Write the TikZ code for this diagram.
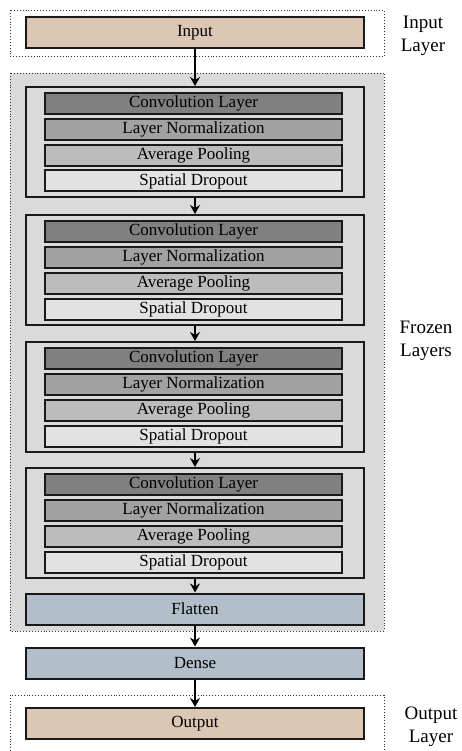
\documentclass[tikz,border=0pt]{standalone}
\usepackage{fontspec}
\setmainfont{Liberation Serif}
\usetikzlibrary{arrows.meta}
\definecolor{tan}{RGB}{220,198,180}
\definecolor{frozenbg}{RGB}{218,218,218}
\definecolor{convc}{RGB}{128,128,128}
\definecolor{normc}{RGB}{162,162,162}
\definecolor{poolc}{RGB}{188,188,188}
\definecolor{dropc}{RGB}{226,226,226}
\definecolor{densec}{RGB}{178,190,202}
\tikzset{
  box/.style={draw=black!90, line width=2pt, rectangle, inner sep=0pt,
    font=\fontsize{17}{20}\selectfont, text=black},
  widebox/.style={box, minimum width=338pt, minimum height=31pt},
  blockbox/.style={draw=black!90, line width=2pt, rectangle, fill=frozenbg,
    minimum width=338pt, minimum height=110pt, inner sep=0pt},
  subbox/.style={box, minimum width=297pt, minimum height=21pt},
  group/.style={draw=black!80, line width=0.9pt, dotted},
  sidelabel/.style={align=center, font=\fontsize{19}{23}\selectfont, text=black},
  arr/.style={line width=1.6pt, -{Stealth[length=9pt, width=10pt, inset=3pt]}}
}
\begin{document}
\begin{tikzpicture}[x=1pt, y=-1pt]
\useasboundingbox[fill=white] (0,0) rectangle (461,751);

% dotted group frames
\draw[group] (10,10) rectangle (384,56);
\draw[group, fill=frozenbg] (10,73) rectangle (384,631);
\draw[group] (10,751) -- (10,695) -- (384,695) -- (384,751);

% input
\node[widebox, fill=tan] (input) at (195,32.5) {Input};

% four convolutional blocks
\foreach \i/\t in {1/87, 2/215, 3/342, 4/468} {
  \node[blockbox] (b\i) at (195,\t+55) {};
  \node[subbox, fill=convc] (conv\i) at (193.5,\t+16.5) {Convolution Layer};
  \node[subbox, fill=normc] (norm\i) at (193.5,\t+42.5) {Layer Normalization};
  \node[subbox, fill=poolc] (pool\i) at (193.5,\t+68.5) {Average Pooling};
  \node[subbox, fill=dropc] (drop\i) at (193.5,\t+94) {Spatial Dropout};
}

\node[widebox, fill=densec] (flatten) at (195,609) {Flatten};
\node[widebox, fill=densec] (dense) at (195,663) {Dense};
\node[widebox, fill=tan] (output) at (195,723.5) {Output};

% connectors
\draw[arr] (input) -- (b1);
\draw[arr] (b1) -- (b2);
\draw[arr] (b2) -- (b3);
\draw[arr] (b3) -- (b4);
\draw[arr] (b4) -- (flatten);
\draw[arr] (flatten) -- (dense);
\draw[arr] (dense) -- (output);

% side labels
\node[sidelabel] (linput) at (423,36) {Input\\Layer};
\node[sidelabel] (lfrozen) at (426,341) {Frozen\\Layers};
\node[sidelabel] (loutput) at (431,727) {Output\\Layer};
\end{tikzpicture}
\end{document}
